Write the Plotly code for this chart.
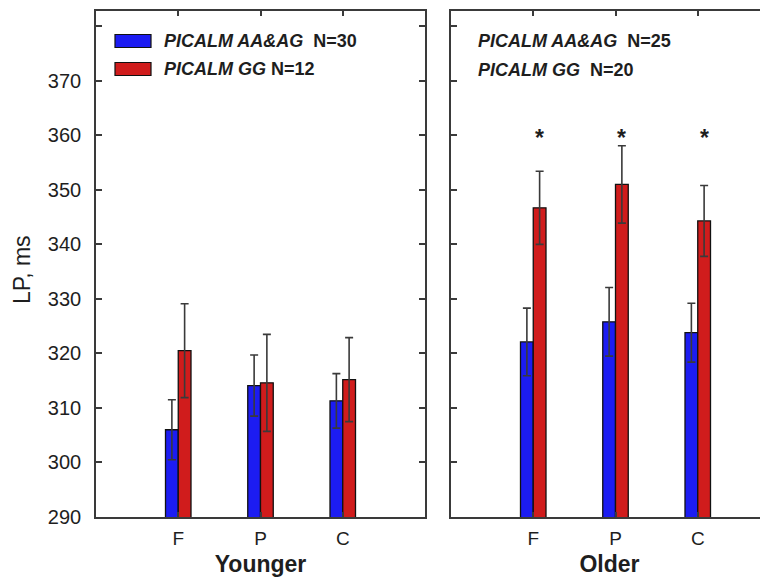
import plotly.graph_objects as go

# ---- data ----
categories = ["F", "P", "C"]
cat_pos = [1, 2, 3]

younger_aa_mean = [306.0, 314.1, 311.3]
younger_aa_se = [5.5, 5.6, 5.0]
younger_gg_mean = [320.5, 314.6, 315.2]
younger_gg_se = [8.6, 8.9, 7.7]

older_aa_mean = [322.1, 325.8, 323.8]
older_aa_se = [6.2, 6.3, 5.4]
older_gg_mean = [346.7, 351.0, 344.3]
older_gg_se = [6.7, 7.1, 6.5]

yticks = [290, 300, 310, 320, 330, 340, 350, 360, 370, 380]
ytick_labels = ["290", "300", "310", "320", "330", "340", "350", "360", "370", ""]

sig_flags = [True, True, True]  # older group, GG vs AA&AG
sig_level = 359.5

BLUE = "#1c1cf2"
RED = "#d01c1c"
INK = "#1e1e1e"
LINE = "#3a3a3a"
FONT = "Liberation Sans, Arial, sans-serif"

BW = 0.155

# page body has an 8px margin; the figure is sized to fill the rest of the window
W, H = 760, 572
TOP, BOT = 3, 509           # plot area top / bottom (px in figure)
PH = BOT - TOP
L0, L1 = 88, 417            # left panel
R0 = 443                    # right panel start (runs to the edge)
CAT_PX = (L1 - L0) / 4

fig = go.Figure()


def add_pair(aa_m, aa_se, gg_m, gg_se, xa, ya):
    err = dict(type="data", visible=True, color=LINE, thickness=1.6, width=4)
    fig.add_trace(go.Bar(
        x=cat_pos, y=aa_m, base=0, width=BW, offset=-BW,
        marker=dict(color=BLUE, line=dict(color="#111111", width=1.3)),
        error_y=dict(array=aa_se, **err), xaxis=xa, yaxis=ya, showlegend=False))
    fig.add_trace(go.Bar(
        x=cat_pos, y=gg_m, base=0, width=BW, offset=0,
        marker=dict(color=RED, line=dict(color="#111111", width=1.3)),
        error_y=dict(array=gg_se, **err), xaxis=xa, yaxis=ya, showlegend=False))


add_pair(younger_aa_mean, younger_aa_se, younger_gg_mean, younger_gg_se, "x", "y")
add_pair(older_aa_mean, older_aa_se, older_gg_mean, older_gg_se, "x2", "y2")

xcommon = dict(
    tickmode="array", tickvals=cat_pos, ticktext=categories,
    ticks="inside", ticklen=5, tickcolor=LINE, tickwidth=1.5,
    showline=True, linecolor=LINE, linewidth=1.7, mirror="ticks",
    showgrid=False, zeroline=False, ticklabelstandoff=3,
    tickfont=dict(family=FONT, size=19, color=INK),
)
ycommon = dict(
    range=[290, 382.8], tickmode="array", tickvals=yticks,
    ticks="inside", ticklen=6, tickcolor=LINE, tickwidth=1.5,
    showline=True, linecolor=LINE, linewidth=1.7,
    showgrid=False, zeroline=False,
    tickfont=dict(family=FONT, size=20, color=INK),
)

fig.update_layout(
    width=W, height=H,
    margin=dict(l=0, r=0, t=TOP, b=H - BOT),
    paper_bgcolor="white", plot_bgcolor="white",
    barmode="overlay",
    xaxis=dict(domain=[L0 / W, L1 / W], range=[0, 4], anchor="y",
               title=dict(text="<b>Younger</b>", standoff=8,
                          font=dict(family=FONT, size=23, color=INK)),
               **xcommon),
    yaxis=dict(domain=[0, 1], anchor="x", ticktext=ytick_labels,
               mirror="ticks", ticklabelstandoff=9, **ycommon),
    xaxis2=dict(domain=[R0 / W, 1.0], range=[0, (W - R0) / CAT_PX], anchor="y2",
                title=dict(text="<b>Older</b>", standoff=8,
                           font=dict(family=FONT, size=23, color=INK)),
                **xcommon),
    yaxis2=dict(domain=[0, 1], anchor="x2", showticklabels=False,
                mirror=False, **ycommon),
    font=dict(family=FONT, color=INK),
)


def py(px):
    return 1 - (px - TOP) / PH


# y-axis title
fig.add_annotation(text="LP, ms", xref="paper", yref="paper", x=14 / W, y=py(262),
                   xanchor="center", yanchor="middle",
                   textangle=-90, showarrow=False,
                   font=dict(family=FONT, size=23, color=INK))

# legend (left panel) with swatches
leg_rows = [
    ("<b><i>PICALM AA&amp;AG</i>  N=30</b>", BLUE, 33),
    ("<b><i>PICALM GG</i> N=12</b>", RED, 61),
]
LW = L1 - L0
for txt, col, ypx in leg_rows:
    yc = py(ypx)
    fig.add_shape(type="rect", xref="x domain", yref="paper",
                  x0=19 / LW, x1=55 / LW,
                  y0=yc - 6.5 / PH, y1=yc + 6.5 / PH,
                  fillcolor=col, line=dict(color="#111111", width=1.2))
    fig.add_annotation(text=txt, xref="x domain", yref="paper",
                       x=66 / LW, y=yc, xanchor="left", yanchor="middle",
                       showarrow=False, font=dict(family=FONT, size=18, color=INK))

# right panel group labels
RW = W - R0
for txt, ypx in [("<b><i>PICALM AA&amp;AG</i>  N=25</b>", 33),
                 ("<b><i>PICALM GG</i>  N=20</b>", 62)]:
    fig.add_annotation(text=txt, xref="x2 domain", yref="paper",
                       x=25 / RW, y=py(ypx), xanchor="left", yanchor="middle",
                       showarrow=False, font=dict(family=FONT, size=18, color=INK))

# significance asterisks over the older GG bars
for xp, flag in zip(cat_pos, sig_flags):
    if flag:
        fig.add_annotation(text="<b>*</b>", x=xp + BW / 2, y=sig_level, xref="x2", yref="y2",
                           showarrow=False, font=dict(family=FONT, size=23, color=INK))

fig.write_html("out.html")
